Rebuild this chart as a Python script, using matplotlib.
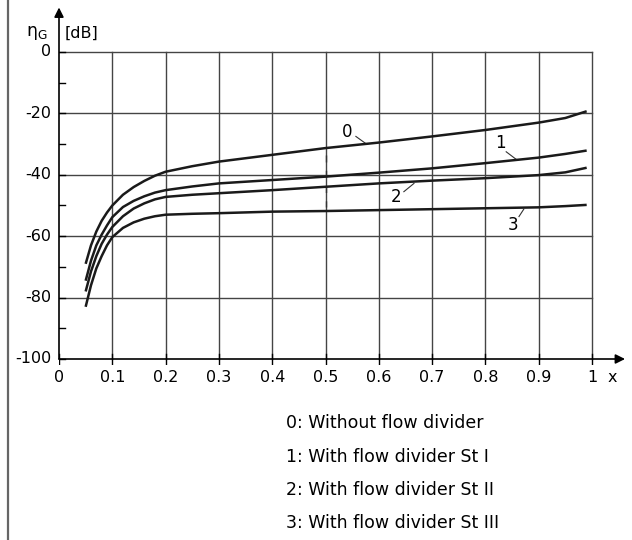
import matplotlib
matplotlib.use("Agg")
import matplotlib.pyplot as plt
from matplotlib.lines import Line2D

# values
x = [0.05, 0.06, 0.07, 0.08, 0.09, 0.10, 0.12, 0.14, 0.16, 0.18, 0.20,
     0.25, 0.30, 0.40, 0.50, 0.60, 0.70, 0.80, 0.90, 0.95, 0.99]
curve0 = [-69, -63, -58.5, -55, -52.3, -50, -46.5, -44, -42, -40.3, -39,
          -37.2, -35.7, -33.5, -31.3, -29.5, -27.5, -25.4, -23, -21.5, -19.3]
curve1 = [-74.5, -68, -63, -59.5, -56.5, -53.8, -50.5, -48.5, -47, -45.8, -45,
          -43.8, -42.8, -41.7, -40.6, -39.3, -37.9, -36.2, -34.4, -33.2, -32.1]
curve2 = [-78, -71.5, -66.5, -62.5, -59.5, -57, -53.5, -51, -49.3, -48, -47.2,
          -46.5, -46, -45, -43.9, -42.8, -41.9, -41.1, -40.1, -39.2, -37.7]
curve3 = [-83, -76, -70.5, -66.5, -63, -60.3, -57.3, -55.5, -54.3, -53.5, -53,
          -52.7, -52.5, -52, -51.8, -51.5, -51.2, -50.9, -50.6, -50.2, -49.8]
curves = [curve0, curve1, curve2, curve3]

x_ticks = [0, 0.1, 0.2, 0.3, 0.4, 0.5, 0.6, 0.7, 0.8, 0.9, 1]
x_labels = ["0", "0.1", "0.2", "0.3", "0.4", "0.5", "0.6", "0.7", "0.8", "0.9", "1"]
y_major = [0, -20, -40, -60, -80, -100]
y_minor = [-10, -30, -50, -70, -90]

# curve label text, label position, leader line start/end
curve_labels = ["0", "1", "2", "3"]
label_pos = [(0.540, -26.0), (0.829, -29.5), (0.632, -47.3), (0.852, -56.4)]
leader_from = [(0.557, -27.5), (0.839, -32.5), (0.647, -45.5), (0.863, -53.6)]
leader_to = [(0.577, -30.0), (0.858, -35.0), (0.666, -42.8), (0.872, -51.2)]

legend_lines = ["0: Without flow divider",
                "1: With flow divider St I",
                "2: With flow divider St II",
                "3: With flow divider St III"]

fig = plt.figure(figsize=(6.32, 5.4), dpi=100)
ax = fig.add_axes([59 / 632, 1 - 365 / 540, (630 - 59) / 632, (365 - 5) / 540])
ax.set_xlim(0, 571 / 533)
ax.set_ylim(-(365 - 52) / 3.07, (52 - 5) / 3.07)
ax.axis("off")

grid_col = "#444444"
# grid
for xv in x_ticks[1:]:
    ax.plot([xv, xv], [-100, 0], color=grid_col, lw=1.0, zorder=1)
for yv in y_major[:-1]:
    ax.plot([0, 1], [yv, yv], color=grid_col, lw=1.0, zorder=1)

# axes with arrows
ax.annotate("", xy=(0, 14.5), xytext=(0, -100),
            arrowprops=dict(arrowstyle="-|>", color="black", lw=1.2,
                            mutation_scale=14, shrinkA=0, shrinkB=0))
ax.annotate("", xy=(1.062, -100), xytext=(0, -100),
            arrowprops=dict(arrowstyle="-|>", color="black", lw=1.2,
                            mutation_scale=14, shrinkA=0, shrinkB=0))

# ticks
tx = 0.011
for yv in y_major + y_minor:
    ax.plot([-tx, tx], [yv, yv], color="black", lw=1.0, zorder=2)
for yv in y_major:
    ax.text(-0.014, yv, str(yv), ha="right", va="center", fontsize=11.5)
for xv, lab in zip(x_ticks, x_labels):
    ax.plot([xv, xv], [-101.5, -98.5], color="black", lw=1.0, zorder=2)
    ax.text(xv, -103.5, lab, ha="center", va="top", fontsize=11.5)
ax.text(1.0375, -103.5, "x", ha="center", va="top", fontsize=11.5)

# axis title
ax.text(-0.041, 6.2, r"$\mathregular{\eta_G}$", ha="center", va="center", fontsize=12.5)
ax.text(0.011, 6.2, "[dB]", ha="left", va="center", fontsize=11.5)

# curves
for c in curves:
    ax.plot(x, c, color="#1a1a1a", lw=1.8, solid_capstyle="butt", zorder=3)

# dashed marker at x = 0.5
ax.plot([0.5, 0.5], [-33.5, -50.5], color="#333333", lw=1.0,
        dashes=(5, 6), zorder=2)

# curve labels with leaders
for lab, p, a, b in zip(curve_labels, label_pos, leader_from, leader_to):
    ax.text(p[0], p[1], lab, ha="center", va="center", fontsize=12)
    ax.plot([a[0], b[0]], [a[1], b[1]], color="#333333", lw=0.8, zorder=2)

# legend text below
for i, t in enumerate(legend_lines):
    fig.text(286 / 632, 1 - (423 + 33.5 * i) / 540, t, ha="left", va="center",
             fontsize=12.5)

# left border line
fig.add_artist(Line2D([8 / 632, 8 / 632], [0, 1], color="#666666", lw=1.6))

fig.savefig("out.png", dpi=100)
